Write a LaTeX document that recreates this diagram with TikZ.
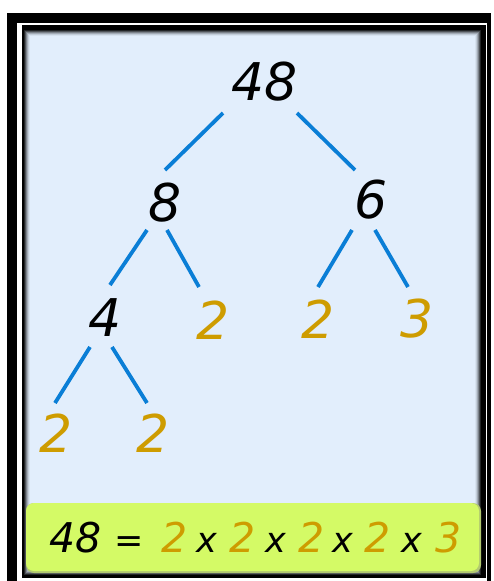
\documentclass[tikz,border=0pt]{standalone}
\usepackage{fontspec}
\setmainfont{DejaVu Sans}
\definecolor{panel}{RGB}{226,238,252}
\definecolor{bar}{RGB}{212,250,102}
\definecolor{gold}{RGB}{206,156,0}
\definecolor{branchblue}{RGB}{10,126,214}
\begin{document}
\begin{tikzpicture}[x=1pt,y=-1pt,
  num/.style={font=\fontsize{52}{52}\selectfont\itshape, inner sep=0pt},
  eq/.style={font=\fontsize{41}{41}\selectfont\itshape, inner sep=0pt, anchor=base},
  op/.style={font=\fontsize{35}{35}\selectfont\itshape, inner sep=0pt, anchor=base},
  fac/.style={text=gold},
  branch/.style={draw=branchblue, line width=3.8pt}]
\useasboundingbox (0,0) rectangle (494,581);
\fill[white] (0,0) rectangle (494,581);
% frames
\fill[black] (7,13) rectangle (491,581);
\fill[white] (17,23) rectangle (487,581);
\fill[black] (22,25) rectangle (486,578);
% inner shadow and panel
\foreach \i/\p in {0/15,1/35,2/55,3/72,4/86,5/95,6/100}{
  \fill[panel!\p!black] (24+\i,30+\i) rectangle (481-\i,575-\i);
}
\fill[panel] (30,36) rectangle (475,569);
% bottom bar
\fill[bar!60!gray, rounded corners=8] (26,503) rectangle (481,573);
\fill[bar, rounded corners=8] (26,503) rectangle (479,571);
% tree
\node[num] (n48) at (265,82) {48};
\node[num] (n8) at (165,203) {8};
\node[num] (n6) at (371,200) {6};
\node[num] (n4) at (105,318) {4};
\node[num,fac] (n2a) at (213,320) {2};
\node[num,fac] (n2b) at (318,319) {2};
\node[num,fac] (n3) at (417,319) {3};
\node[num,fac] (n2c) at (56,433) {2};
\node[num,fac] (n2d) at (153,433) {2};
\draw[branch] ([shift={(-42,31)}]n48.center) -- ([shift={(0,-33)}]n8.center);
\draw[branch] ([shift={(32,31)}]n48.center) -- ([shift={(-16,-30)}]n6.center);
\draw[branch] ([shift={(-18,27)}]n8.center) -- ([shift={(5,-33)}]n4.center);
\draw[branch] ([shift={(2,27)}]n8.center) -- ([shift={(-14,-33)}]n2a.center);
\draw[branch] ([shift={(-19,30)}]n6.center) -- ([shift={(0,-32)}]n2b.center);
\draw[branch] ([shift={(4,30)}]n6.center) -- ([shift={(-9,-32)}]n3.center);
\draw[branch] ([shift={(-15,29)}]n4.center) -- ([shift={(-1,-30)}]n2c.center);
\draw[branch] ([shift={(7,29)}]n4.center) -- ([shift={(-6,-30)}]n2d.center);
% equation
\node[eq] (e48) at (76,552) {48};
\node[op] (eeq) at (129,552) {=};
\node[eq,fac] (ea) at (175,552) {2};
\node[op] (x1) at (207,552) {x};
\node[eq,fac] (eb) at (243,552) {2};
\node[op] (x2) at (276,552) {x};
\node[eq,fac] (ec) at (312,552) {2};
\node[op] (x3) at (343,552) {x};
\node[eq,fac] (ed) at (378,552) {2};
\node[op] (x4) at (412,552) {x};
\node[eq,fac] (ee) at (449,552) {3};
\end{tikzpicture}
\end{document}
